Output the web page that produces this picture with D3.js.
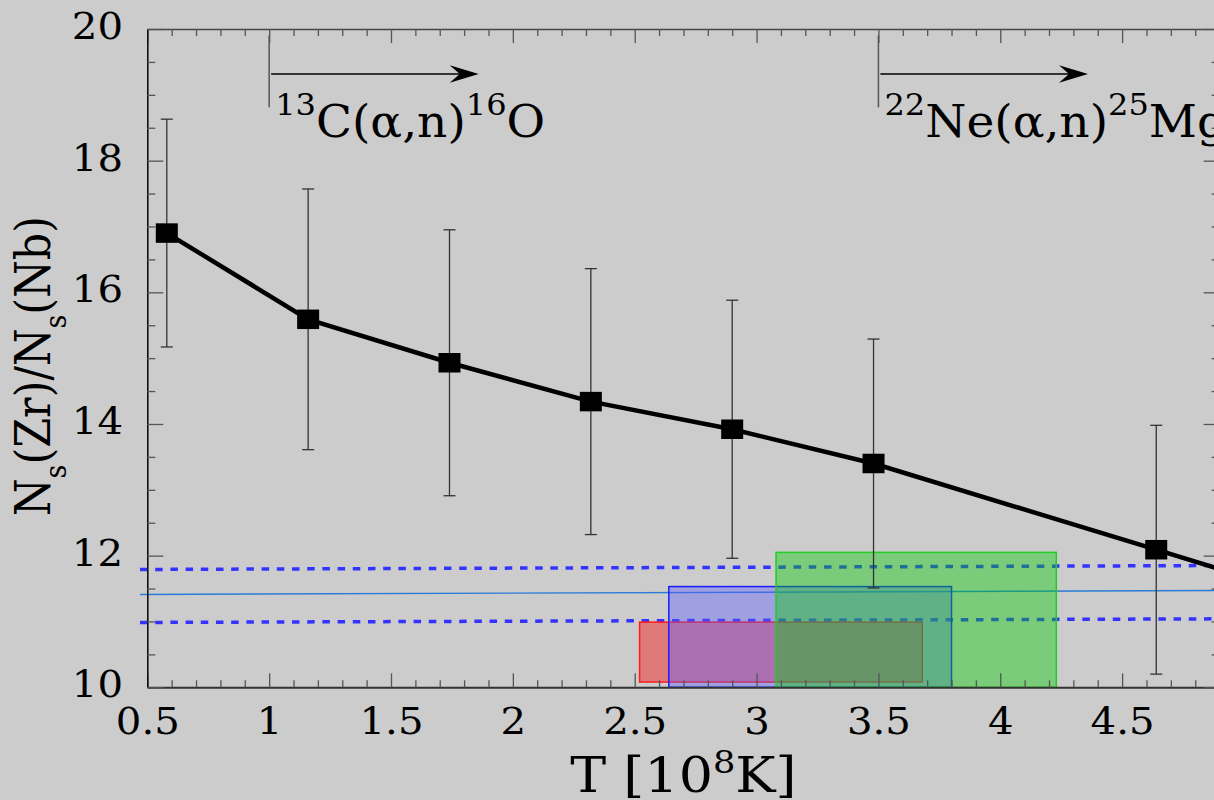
<!DOCTYPE html>
<html>
<head>
<meta charset="utf-8">
<script src="https://cdn.jsdelivr.net/npm/d3@7"></script>
<style>
  html, body { margin: 0; padding: 0; background: #cccccc; overflow: hidden; }
  svg { display: block; }
  text { font-family: "DejaVu Serif", serif; fill: #000; }
</style>
</head>
<body>
<svg id="chart" width="1214" height="800"></svg>
<script>
// Zr/Nb s-process ratio versus temperature (10^8 K), with 1-sigma uncertainty
const temperature = [0.58, 1.16, 1.74, 2.32, 2.90, 3.48, 4.64, 5.22];
const ratio       = [16.90, 15.59, 14.93, 14.34, 13.92, 13.40, 12.09, 11.43];
const ratioErr    = [1.73, 1.98, 2.02, 2.02, 1.96, 1.89, 1.89, 1.89];

// Measured ratio: central line and its lower/upper limits (values at both ends)
const bandT     = [0.47, 4.9];
const bandMid   = [11.41, 11.47];
const bandUpper = [11.79, 11.85];
const bandLower = [10.985, 11.04];

// Temperature / ratio boxes
const boxT0 = [2.52, 2.64, 3.08];
const boxT1 = [3.68, 3.80, 4.23];
const boxV0 = [10.08, 10.00, 10.00];
const boxV1 = [10.99, 11.53, 12.05];

// Axis ticks
const xTicks      = [0.5, 1, 1.5, 2, 2.5, 3, 3.5, 4, 4.5];
const xTickLabels = ["0.5", "1", "1.5", "2", "2.5", "3", "3.5", "4", "4.5"];
const yTicks      = [10, 12, 14, 16, 18, 20];
const yTickLabels = ["10", "12", "14", "16", "18", "20"];

// Neutron-source onsets
const sourceT        = [1.0, 3.5];
const sourceArrowEnd = [1.86, 4.36];
const sourceMassIn   = ["13", "22"];
const sourceElIn     = ["C", "Ne"];
const sourceMassOut  = ["16", "25"];
const sourceElOut    = ["O", "Mg"];

// ---------------------------------------------------------------
const svg = d3.select("#chart");
const x = d3.scaleLinear().domain([0.5, 4.9]).range([147.3, 1219.6]);
const y = d3.scaleLinear().domain([10, 20]).range([687.3, 29]);

const boxFill   = ["rgba(255,0,0,0.4)", "rgba(96,96,255,0.4)", "rgba(0,204,0,0.4)"];
const boxStroke = ["#ff1a1a", "#1a1aff", "#22cc22"];

// measured band lines
const bandLine = d3.line().x(d => x(d[0])).y(d => y(d[1]));
svg.append("path")
  .attr("d", bandLine(d3.zip(bandT, bandMid)))
  .attr("fill", "none").attr("stroke", "#2a7ad8").attr("stroke-width", 1.4);
[bandUpper, bandLower].forEach(vals => {
  svg.append("path")
    .attr("d", bandLine(d3.zip(bandT, vals)))
    .attr("fill", "none").attr("stroke", "#3333ff")
    .attr("stroke-width", 3.5).attr("stroke-dasharray", "7.5 7.7");
});

// boxes
svg.append("g").selectAll("rect")
  .data(d3.range(boxT0.length))
  .join("rect")
  .attr("x", i => x(boxT0[i]))
  .attr("y", i => y(boxV1[i]))
  .attr("width", i => x(boxT1[i]) - x(boxT0[i]))
  .attr("height", i => y(boxV0[i]) - y(boxV1[i]))
  .attr("fill", i => boxFill[i])
  .attr("stroke", i => boxStroke[i])
  .attr("stroke-width", 1.5);

// error bars
const pts = d3.range(temperature.length);
const eb = svg.append("g").attr("stroke", "#333").attr("stroke-width", 1.3);
pts.forEach(i => {
  const cx = x(temperature[i]);
  const yt = y(ratio[i] + ratioErr[i]);
  const yb = y(ratio[i] - ratioErr[i]);
  eb.append("line").attr("x1", cx).attr("x2", cx).attr("y1", yt).attr("y2", yb);
  eb.append("line").attr("x1", cx - 6).attr("x2", cx + 6).attr("y1", yt).attr("y2", yt);
  eb.append("line").attr("x1", cx - 6).attr("x2", cx + 6).attr("y1", yb).attr("y2", yb);
});

// ratio curve
svg.append("path")
  .attr("d", d3.line().x(i => x(temperature[i])).y(i => y(ratio[i]))(pts))
  .attr("fill", "none").attr("stroke", "#000").attr("stroke-width", 4.5)
  .attr("stroke-linejoin", "miter");

// square markers
svg.append("g").selectAll("rect")
  .data(pts)
  .join("rect")
  .attr("x", i => x(temperature[i]) - 11)
  .attr("y", i => y(ratio[i]) - 9.75)
  .attr("width", 22).attr("height", 19.5)
  .attr("fill", "#000");

// ---------------- axes ----------------
const tickColor = "#555";
function styleAxis(g, domainColor, domainWidth) {
  g.attr("font-family", null).attr("font-size", null);
  g.select(".domain").attr("stroke", domainColor).attr("stroke-width", domainWidth);
  g.selectAll(".tick line").attr("stroke", tickColor).attr("stroke-width", 1.3);
}
const xMinor = d3.range(5, 50).map(k => k / 10).filter(v => Math.round(v * 10) % 5 !== 0);
const yMinor = d3.range(20, 41).map(k => k / 2).filter(v => v % 2 !== 0);

// bottom
const gBottom = svg.append("g").attr("transform", `translate(0,${y(10)})`)
  .call(d3.axisBottom(x).tickValues(xTicks).tickFormat((d, i) => xTickLabels[i])
    .tickSizeInner(-14).tickSizeOuter(0));
styleAxis(gBottom, "#333", 2);
gBottom.selectAll(".tick text")
  .attr("y", 0).attr("dy", null)
  .attr("transform", "translate(0,46.7) scale(1.06,1)")
  .style("font-size", "38px");
svg.append("g").attr("transform", `translate(0,${y(10)})`)
  .call(d3.axisBottom(x).tickValues(xMinor).tickFormat("").tickSizeInner(-7).tickSizeOuter(0))
  .call(g => { g.select(".domain").remove(); g.selectAll("line").attr("stroke", tickColor).attr("stroke-width", 1.3); });

// top
const gTop = svg.append("g").attr("transform", `translate(0,${y(20)})`)
  .call(d3.axisTop(x).tickValues(xTicks).tickFormat("").tickSizeInner(-14).tickSizeOuter(0));
styleAxis(gTop, "#444", 1.6);
svg.append("g").attr("transform", `translate(0,${y(20)})`)
  .call(d3.axisTop(x).tickValues(xMinor).tickFormat("").tickSizeInner(-7).tickSizeOuter(0))
  .call(g => { g.select(".domain").remove(); g.selectAll("line").attr("stroke", tickColor).attr("stroke-width", 1.3); });

// left
const gLeft = svg.append("g").attr("transform", `translate(${x(0.5)},0)`)
  .call(d3.axisLeft(y).tickValues(yTicks).tickFormat((d, i) => yTickLabels[i])
    .tickSizeInner(-16).tickSizeOuter(0));
styleAxis(gLeft, "#111", 1.6);
gLeft.selectAll(".tick text")
  .attr("x", 0).attr("dy", null)
  .attr("transform", "translate(-24.3,9.5) scale(1.06,1)")
  .style("font-size", "38px");
svg.append("g").attr("transform", `translate(${x(0.5)},0)`)
  .call(d3.axisLeft(y).tickValues(yMinor).tickFormat("").tickSizeInner(-8).tickSizeOuter(0))
  .call(g => { g.select(".domain").remove(); g.selectAll("line").attr("stroke", tickColor).attr("stroke-width", 1.3); });

// right
const gRight = svg.append("g").attr("transform", `translate(${x(4.9)},0)`)
  .call(d3.axisRight(y).tickValues(yTicks).tickFormat("").tickSizeInner(-16).tickSizeOuter(0));
styleAxis(gRight, "#111", 1.6);
svg.append("g").attr("transform", `translate(${x(4.9)},0)`)
  .call(d3.axisRight(y).tickValues(yMinor).tickFormat("").tickSizeInner(-8).tickSizeOuter(0))
  .call(g => { g.select(".domain").remove(); g.selectAll("line").attr("stroke", tickColor).attr("stroke-width", 1.3); });

// axis titles
const xTitle = svg.append("text")
  .attr("transform", `translate(${(x(0.5) + x(4.9)) / 2},792) scale(1.1,1)`)
  .attr("text-anchor", "middle").style("font-size", "49px");
xTitle.append("tspan").text("T [10");
xTitle.append("tspan").attr("dy", -19).style("font-size", "32px").text("8");
xTitle.append("tspan").attr("dy", 19).text("K]");

const yTitle = svg.append("text")
  .attr("transform", "translate(50,366) scale(1.12,1) rotate(-90)")
  .attr("text-anchor", "middle").style("font-size", "43px");
yTitle.append("tspan").text("N");
yTitle.append("tspan").attr("dy", 14).style("font-size", "27px").text("s");
yTitle.append("tspan").attr("dy", -14).text("(Zr)/N");
yTitle.append("tspan").attr("dy", 14).style("font-size", "27px").text("s");
yTitle.append("tspan").attr("dy", -14).text("(Nb)");

// ---------------- neutron-source markers ----------------
sourceT.forEach((t, i) => {
  const x0 = x(t);
  svg.append("line")
    .attr("x1", x0).attr("x2", x0).attr("y1", y(19.90)).attr("y2", y(18.81))
    .attr("stroke", "#555").attr("stroke-width", 1.5);
  const ya = y(19.316);
  const xe = x(sourceArrowEnd[i]);
  svg.append("line")
    .attr("x1", x0 + 2).attr("x2", xe - 18).attr("y1", ya).attr("y2", ya)
    .attr("stroke", "#000").attr("stroke-width", 1.5);
  svg.append("path")
    .attr("d", `M${xe},${ya} L${xe - 29},${ya - 8.8} L${xe - 19},${ya} L${xe - 29},${ya + 8.8} Z`)
    .attr("fill", "#000");
  const lbl = svg.append("text")
    .attr("transform", `translate(${x0 + 6},${y(18.36)}) scale(1.07,1)`)
    .style("font-size", "44px");
  lbl.append("tspan").attr("dy", -22).style("font-size", "30px").text(sourceMassIn[i]);
  lbl.append("tspan").attr("dy", 22).text(sourceElIn[i] + "(α,n)");
  lbl.append("tspan").attr("dy", -22).style("font-size", "30px").text(sourceMassOut[i]);
  lbl.append("tspan").attr("dy", 22).text(sourceElOut[i]);
});
</script>
</body>
</html>
